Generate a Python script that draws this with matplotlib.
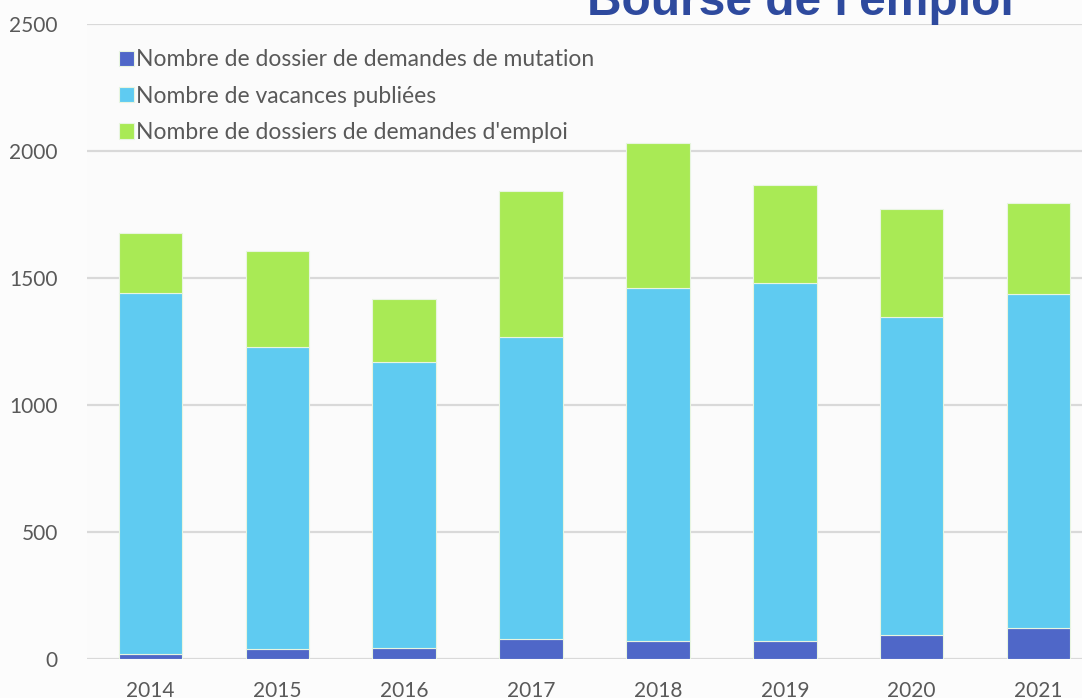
import matplotlib
matplotlib.use("Agg")
import matplotlib.pyplot as plt
import numpy as np

years = ["2014", "2015", "2016", "2017", "2018", "2019", "2020", "2021"]
mutation = [22, 42, 46, 81, 73, 71, 97, 122]
vacances = [1420, 1185, 1122, 1188, 1386, 1409, 1248, 1316]
demandes = [233, 379, 249, 574, 570, 384, 425, 355]
labels = ["Nombre de dossier de demandes de mutation",
          "Nombre de vacances publiées",
          "Nombre de dossiers de demandes d'emploi"]
yticks = [0, 500, 1000, 1500, 2000, 2500]
title = "Bourse de l'emploi"

colors = ["#4F67C8", "#5FCBF1", "#A9EA55"]
W, H = 1082, 698
fig = plt.figure(figsize=(W / 100, H / 100), dpi=100, facecolor="#fcfcfc")
ax = fig.add_axes([87 / W, 38.7 / H, 1015 / W, 635.8 / H])
ax.set_facecolor("#fbfbfb")

x = np.arange(len(years))
bottom = np.zeros(len(years))
handles = []
for vals, c, lab in zip([mutation, vacances, demandes], colors, labels):
    b = ax.bar(x, vals, 0.5, bottom=bottom, color=c, edgecolor="#e8f5e0",
               linewidth=0.8, label=lab, zorder=3)
    handles.append(b)
    bottom += np.array(vals)

ax.set_xlim(-0.5, 7.5)
ax.set_ylim(0, 2500)
ax.set_yticks(yticks)
ax.set_xticks(x)
ax.set_xticklabels(years)
ax.grid(axis="y", color="#d9d9d9", linewidth=1.6, zorder=0)
for s in ax.spines.values():
    s.set_visible(False)
ax.tick_params(length=0, labelsize=15, labelcolor="#595959")
ax.tick_params(axis="x", pad=15.5)
ax.tick_params(axis="y", pad=21)
for t in ax.get_xticklabels() + ax.get_yticklabels():
    t.set_family("Lato")

leg = ax.legend(handles=handles, loc="upper left", bbox_to_anchor=(0.011, 0.992),
                frameon=False, prop={"family": "Lato", "size": 16.5},
                handlelength=0.65, handleheight=0.65, handletextpad=0.1,
                labelspacing=0.67, labelcolor="#595959")

fig.text(800 / W, 1 - 15 / H, title, ha="center", va="baseline",
         fontsize=34.5, fontweight="bold", color="#2E4A9E",
         family="Liberation Sans")

fig.savefig("out.png", dpi=100, facecolor=fig.get_facecolor())
